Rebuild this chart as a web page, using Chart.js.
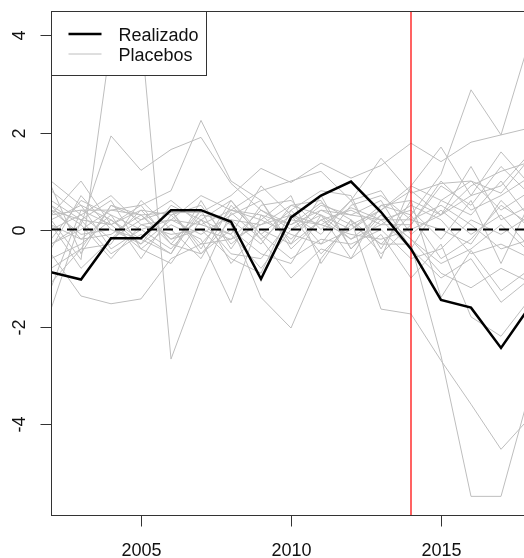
<!DOCTYPE html>
<html>
<head>
<meta charset="utf-8">
<script src="https://cdn.jsdelivr.net/npm/chart.js@4"></script>
<style>
  html, body { margin: 0; padding: 0; overflow: hidden; background: #fff; }
  canvas { display: block; }
</style>
</head>
<body>
<canvas id="chartCanvas" width="560" height="558"></canvas>
<script>
const years = [2002, 2003, 2004, 2005, 2006, 2007, 2008, 2009, 2010, 2011, 2012, 2013, 2014, 2015, 2016, 2017, 2018];

const realizado = [-0.88, -1.03, -0.18, -0.18, 0.40, 0.40, 0.16, -1.02, 0.25, 0.70, 0.99, 0.36, -0.40, -1.45, -1.61, -2.44, -1.55];

// placebo series, one row per placebo unit
const placebos = [
    [ 0.20, -0.62,  3.90,  4.09, -2.67, -1.00,  0.35, -0.20,  0.30,  0.10,  0.45,  0.20, -0.40,  0.60,  1.00,  0.40,  0.80],
    [-0.30,  0.10,  1.93,  1.22,  1.65,  1.90,  0.95,  0.40,  0.10,  0.55,  0.20, -0.30,  0.30, -0.60, -0.20,  0.50,  0.10],
    [ 0.40,  0.20,  0.10,  0.50,  0.80,  2.25,  1.00,  0.60, -0.30,  0.20,  0.40,  0.10,  0.10,  0.90,  0.50,  1.30,  0.70],
    [ 0.30,  0.40,  0.40,  0.30,  0.35,  0.35,  0.70,  1.26,  0.97,  1.37,  1.06,  1.32,  1.78,  1.40,  1.80,  1.95,  2.10],
    [ 0.10, -0.20,  0.30,  0.00, -0.40,  0.30,  0.20,  0.10,  0.50,  0.30,  0.00,  0.50,  0.30,  1.14,  2.88,  1.95,  4.00],
    [-1.64,  0.20,  0.60, -0.40,  0.10, -0.20, -1.51,  0.30, -0.20,  0.40,  0.10, -0.30, -0.30, -2.60, -5.50, -5.50, -3.25],
    [ 0.50, -0.20, -0.10,  0.30, -0.30,  0.40,  0.10, -1.40, -2.03, -0.60,  0.20, -1.64, -1.74, -2.70, -3.60, -4.53, -3.85],
    [ 1.00,  0.50,  0.20, -0.30,  0.20, -0.10,  0.30,  0.60, -0.40,  0.20, -0.20,  0.10,  0.50,  0.20, -0.50, -0.30, -0.60],
    [-0.50, -1.37, -1.53, -1.43, -0.60, -0.30, -0.20,  0.10,  0.30, -0.50,  0.10,  0.40,  0.80,  0.30,  0.90,  1.20,  1.40],
    [ 0.80,  0.30, -0.20,  0.20,  0.40, -0.50,  0.20, -0.30,  0.50,  0.60, -0.40,  0.30, -0.20, -0.90, -1.20, -0.80, -1.10],
    [-0.20,  0.60,  0.30, -0.60,  0.30,  0.50, -0.30,  0.20, -0.10, -0.30,  0.50,  0.70,  0.20,  0.50,  0.10, -0.40, -0.20],
    [ 0.30,  1.00,  0.10,  0.40, -0.20,  0.20, -0.50, -0.60,  0.20,  0.10, -0.10, -0.20,  0.00,  0.30,  0.70,  0.90,  1.60],
    [-0.80, -0.40,  0.50,  0.20,  0.60,  0.10,  0.40,  0.30,  0.10,  0.40,  0.30,  0.60, -0.40, -1.00, -0.60, -1.50, -1.00],
    [ 0.60,  0.20, -0.50, -0.10, -0.50,  0.60, -0.40,  0.50,  0.60,  0.00,  0.60, -0.40,  0.60,  0.30,  1.30,  0.20,  0.50],
    [-1.10, -0.40, -0.30,  0.60,  0.00, -0.60,  0.50, -0.10, -0.60, -0.20, -0.30,  0.00, -0.60, -0.40,  0.20, -0.10,  0.30],
    [ 0.00,  0.30,  0.70,  0.10, -0.10,  0.00, -0.20,  0.40,  0.00,  0.50,  0.30,  0.20,  0.20,  0.00, -0.30,  0.60,  0.00],
    [ 0.40, -0.10,  0.00, -0.30,  0.50,  0.20,  0.60, -0.10,  0.40, -0.30,  0.00,  0.40,  0.90,  0.60,  0.30,  1.00,  0.20],
    [-0.30,  0.00,  0.40,  0.50, -0.30, -0.50,  0.00, -0.50, -0.70,  0.30, -0.60, -0.10, -1.00, -0.30, -1.80, -2.20, -1.40],
    [ 0.20,  0.50, -0.40,  0.00,  0.20,  0.10, -0.10,  0.90,  0.30, -0.10,  0.60,  0.80, -0.10,  0.40, -0.10,  0.30, -0.40],
    [-0.60, -0.30,  0.20, -0.20, -0.50,  0.40, -0.70,  0.00, -0.30,  0.70, -0.40,  0.20,  0.40, -0.20,  0.60, -0.70,  0.60],
    [ 0.10, -0.80, -0.20,  0.40,  0.30, -0.30,  0.40,  0.20,  0.70, -0.70,  0.20, -0.50,  0.10,  1.00,  0.40,  0.70,  1.10],
    [-1.20,  0.40,  0.10, -0.40, -0.70,  0.20, -0.10, -0.80,  0.00,  0.30, -0.20,  0.30, -0.20, -0.70, -0.40,  0.10, -0.50],
    [ 0.50,  0.10, -0.60,  0.10,  0.20,  0.70,  0.40,  0.80,  1.00,  1.20,  0.60,  1.47,  0.75,  0.95,  1.00,  0.75,  1.50],
    [-0.40,  0.70,  0.00, -0.20,  0.40, -0.40,  0.60, -0.20, -1.00, -0.40, -0.60,  0.50,  0.60, -1.40, -0.43, -1.26, -0.80],
    [ 0.90, -0.50,  0.50,  0.30, -0.20,  0.00, -0.60, -0.90,  0.40,  0.80,  0.70, -0.60,  0.90,  1.70,  0.70,  1.60,  0.90]
];

const treatmentYear = 2014;
const xTicks = [2005, 2010, 2015];
const yTicks = [-4, -2, 0, 2, 4];
const xRange = [2002, 2018];
const yRange = [-5.884, 4.484];
const legendLabels = ["Realizado", "Placebos"];

const FONT = '18px "Liberation Sans", Arial, sans-serif';
const GRAY = "#bebebe";

function toPoints(values) {
    return values.map(function (v, i) {
        return { x: years[i], y: v };
    });
}

// index 0 is drawn last (on top)
const datasets = [
    {
        label: "zero",
        data: [{ x: xRange[0], y: 0 }, { x: xRange[1], y: 0 }],
        borderColor: "#000",
        borderWidth: 2,
        borderDash: [10, 6],
        pointRadius: 0
    },
    {
        label: legendLabels[0],
        data: toPoints(realizado),
        borderColor: "#000",
        borderWidth: 2.5,
        pointRadius: 0
    }
];
placebos.forEach(function (p, k) {
    datasets.push({
        label: "placebo " + (k + 1),
        data: toPoints(p),
        borderColor: GRAY,
        borderWidth: 1,
        pointRadius: 0
    });
});

const rPlot = {
    id: "rPlot",
    afterDatasetDraw(chart, args) {
        // red vertical line after the gray lines, before the black one
        if (args.index !== 2) return;
        const ctx = chart.ctx;
        const a = chart.chartArea;
        const xp = chart.scales.x.getPixelForValue(treatmentYear);
        ctx.save();
        ctx.strokeStyle = "#ff2020";
        ctx.lineWidth = 1.4;
        ctx.beginPath();
        ctx.moveTo(xp, a.top);
        ctx.lineTo(xp, a.bottom);
        ctx.stroke();
        ctx.restore();
    },
    afterDraw(chart) {
        const ctx = chart.ctx;
        const a = chart.chartArea;
        const xs = chart.scales.x;
        const ys = chart.scales.y;
        const L = Math.round(a.left) + 0.5;
        const T = Math.round(a.top) - 0.5;
        const R = Math.round(a.right) + 0.5;
        const B = Math.round(a.bottom) + 0.5;

        ctx.save();
        ctx.strokeStyle = "#333";
        ctx.lineWidth = 1;
        ctx.strokeRect(L, T, R - L, B - T);

        ctx.fillStyle = "#111";
        ctx.font = FONT;

        // x axis
        ctx.textAlign = "center";
        ctx.textBaseline = "alphabetic";
        xTicks.forEach(function (t) {
            const px = Math.round(xs.getPixelForValue(t)) + 0.5;
            ctx.beginPath();
            ctx.moveTo(px, B);
            ctx.lineTo(px, B + 11);
            ctx.stroke();
            ctx.fillText(String(t), px, B + 40);
        });

        // y axis, labels rotated like R
        yTicks.forEach(function (t) {
            const py = Math.round(ys.getPixelForValue(t)) + 0.5;
            ctx.beginPath();
            ctx.moveTo(L, py);
            ctx.lineTo(L - 11, py);
            ctx.stroke();
            ctx.save();
            ctx.translate(25, py);
            ctx.rotate(-Math.PI / 2);
            ctx.textAlign = "center";
            ctx.fillText(String(t), 0, 0);
            ctx.restore();
        });

        // legend
        const bx = L, by = T, bw = 155, bh = 64;
        ctx.fillStyle = "#fff";
        ctx.fillRect(bx, by, bw, bh);
        ctx.strokeStyle = "#333";
        ctx.strokeRect(bx, by, bw, bh);
        const rows = [
            { y: by + 22.5, color: "#000", width: 2.5 },
            { y: by + 42.5, color: GRAY, width: 1 }
        ];
        rows.forEach(function (r, i) {
            ctx.strokeStyle = r.color;
            ctx.lineWidth = r.width;
            ctx.beginPath();
            ctx.moveTo(bx + 17, r.y);
            ctx.lineTo(bx + 50, r.y);
            ctx.stroke();
            ctx.fillStyle = "#111";
            ctx.textAlign = "left";
            ctx.fillText(legendLabels[i], bx + 67, r.y + 7);
        });
        ctx.restore();
    }
};

new Chart(document.getElementById("chartCanvas").getContext("2d"), {
    type: "line",
    data: { datasets: datasets },
    options: {
        responsive: false,
        animation: false,
        layout: { padding: { left: 51, top: 12, right: 29, bottom: 43 } },
        plugins: {
            legend: { display: false },
            tooltip: { enabled: false }
        },
        scales: {
            x: { type: "linear", min: xRange[0], max: xRange[1], display: false },
            y: { type: "linear", min: yRange[0], max: yRange[1], display: false }
        }
    },
    plugins: [rPlot]
});
</script>
</body>
</html>
